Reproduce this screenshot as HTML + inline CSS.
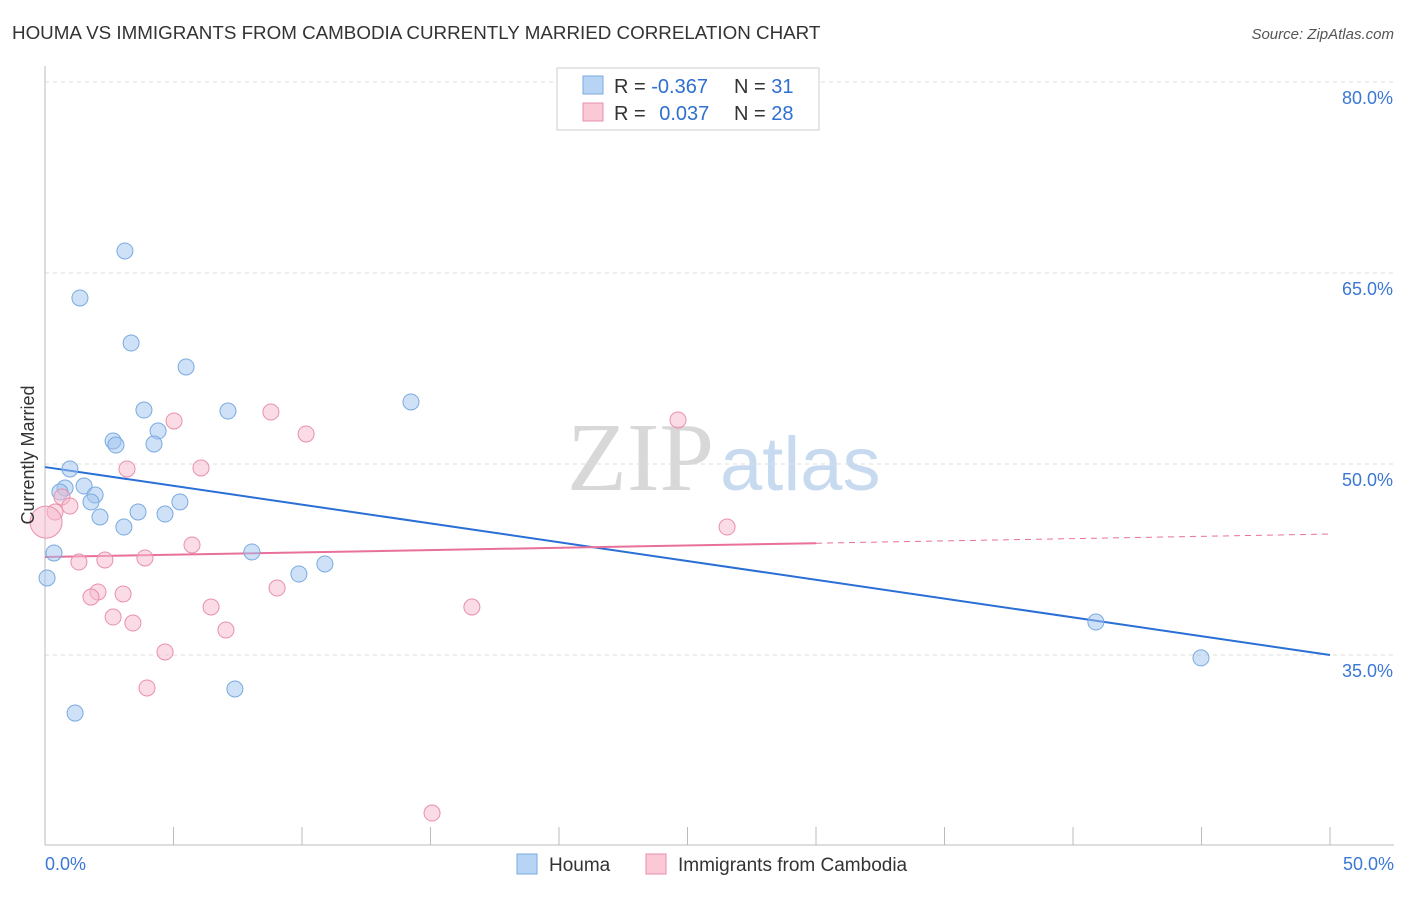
<!DOCTYPE html>
<html><head><meta charset="utf-8"><style>
body{margin:0;background:#fff;font-family:"Liberation Sans",sans-serif;}
svg text{font-family:"Liberation Sans",sans-serif;}
</style></head><body>
<svg id="chart" width="1406" height="892">
<text x="12" y="39" font-size="18.8" fill="#333">HOUMA VS IMMIGRANTS FROM CAMBODIA CURRENTLY MARRIED CORRELATION CHART</text>
<text x="1394" y="39" font-size="15" fill="#555" text-anchor="end" font-style="italic">Source: ZipAtlas.com</text>
<g>
<text x="714" y="490" font-size="98" fill="#d8d8d8" text-anchor="end" style="font-family:'Liberation Serif',serif">ZIP</text>
<text x="720" y="490" font-size="76" fill="#c8daf0">atlas</text>
</g>
<g id="grid"></g><g id="axes"></g><g id="lines"></g><g id="pts"></g>
<text x="34" y="455" font-size="18" fill="#333" text-anchor="middle" transform="rotate(-90 34 455)">Currently Married</text>
<g>
<rect x="557" y="68" width="262" height="62" fill="#fff" stroke="#ccc"/>
<rect x="583" y="76" width="20" height="18" fill="#b8d4f4" stroke="#7aaae0"/>
<rect x="583" y="103" width="20" height="18" fill="#fbc8d6" stroke="#e890aa"/>
<text x="614" y="93" font-size="20" fill="#333">R = <tspan fill="#2f6fd0">-0.367</tspan></text>
<text x="734" y="93" font-size="20" fill="#333">N = <tspan fill="#2f6fd0">31</tspan></text>
<text x="614" y="120" font-size="20" fill="#333">R = <tspan fill="#2f6fd0" dx="8">0.037</tspan></text>
<text x="734" y="120" font-size="20" fill="#333">N = <tspan fill="#2f6fd0">28</tspan></text>
</g>
<g>
<rect x="517" y="854" width="20" height="20" fill="#b8d4f4" stroke="#7aaae0"/>
<text x="549" y="871" font-size="19" fill="#333">Houma</text>
<rect x="646" y="854" width="20" height="20" fill="#fbc8d6" stroke="#e890aa"/>
<text x="678" y="871" font-size="19" fill="#333">Immigrants from Cambodia</text>
</g>
</svg>
<script>
const yTicks=[35,50,65,80];
const xTickLabels=["0.0%","50.0%"];
const houmaX=[3.11,1.36,3.35,5.49,3.85,7.12,14.24,4.40,2.65,2.76,4.24,0.97,0.78,0.58,1.52,1.95,1.79,3.62,5.25,4.67,2.14,3.07,0.35,8.05,10.89,9.88,0.08,40.89,44.98,7.39,1.17];
const houmaY=[66.73,63.04,59.50,57.62,54.24,54.16,54.87,52.59,51.81,51.49,51.57,49.61,48.12,47.80,48.27,47.57,47.02,46.23,47.02,46.07,45.84,45.05,43.01,43.09,42.15,41.36,41.05,37.59,34.77,32.33,30.44];
const cambX=[5.02,8.79,10.16,24.63,3.19,6.07,0.66,0.97,0.39,0.04,26.54,5.72,3.89,2.33,1.32,9.03,2.06,1.79,3.04,6.46,16.61,2.65,3.42,7.04,4.67,3.97,15.06];
const cambY=[53.38,54.08,52.36,53.46,49.61,49.69,47.41,46.70,46.23,45.44,45.05,43.64,42.62,42.46,42.30,40.26,39.95,39.55,39.79,38.77,38.77,37.98,37.51,36.96,35.24,32.41,22.59];
const houmaTrend=[49.76,35.0];
const cambTrend=[42.70,44.50];
const X=v=>45+v*25.7, Y=v=>464-(v-50)*12.733;
const NS="http://www.w3.org/2000/svg";
function mk(t,a,p){const e=document.createElementNS(NS,t);for(const k in a)e.setAttribute(k,a[k]);document.getElementById(p).appendChild(e);return e;}
yTicks.forEach(t=>{
 const l=mk('line',{x1:45,x2:1394,y1:Y(t),y2:Y(t),stroke:'#ddd','stroke-dasharray':'4,4'},'grid');
 
 
 const tx=mk('text',{x:1393,y:Y(t)+22,'font-size':18,fill:'#3a78d4','text-anchor':'end'},'grid');tx.textContent=t.toFixed(1)+'%';
 
 
});
mk('line',{x1:45,x2:45,y1:66,y2:845,stroke:'#bbb'},'axes');
mk('line',{x1:45,x2:1394,y1:845,y2:845,stroke:'#bbb'},'axes');
for(let i=0;i<=10;i++){const t=mk('line',{x1:X(i*5),x2:X(i*5),y1:827,y2:845,stroke:'#bbb'},'axes');
 
 }
[[0,'start',45],[50,'end',1394]].forEach((d,i)=>{const t=mk('text',{x:d[2],y:870,'font-size':18,fill:'#3a78d4','text-anchor':d[1]},'axes');t.textContent=xTickLabels[i];
 
 });
houmaX.forEach((x,i)=>{const c=mk('circle',{cx:X(x),cy:Y(houmaY[i]),r:8,fill:'rgba(160,196,240,0.5)',stroke:'#7aaae0','stroke-width':1},'pts');
 
 });
cambX.forEach((x,i)=>{const c=mk('circle',{cx:X(x),cy:Y(cambY[i]),r:i===9?16:8,fill:'rgba(248,185,205,0.5)',stroke:'#e890aa','stroke-width':1},'pts');
 
 });
const hl=mk('line',{x1:X(0),y1:Y(houmaTrend[0]),x2:X(50),y2:Y(houmaTrend[1]),stroke:'#2a6fd6','stroke-width':2},'lines');


const cy=x=>cambTrend[0]+(cambTrend[1]-cambTrend[0])*x/50;
const cl=mk('line',{x1:X(0),y1:Y(cy(0)),x2:X(30),y2:Y(cy(30)),stroke:'#e8709a','stroke-width':2},'lines');


const cd=mk('line',{x1:X(30),y1:Y(cy(30)),x2:X(50),y2:Y(cy(50)),stroke:'#e8709a','stroke-width':1,'stroke-dasharray':'6,5'},'lines');


</script>
</body></html>
